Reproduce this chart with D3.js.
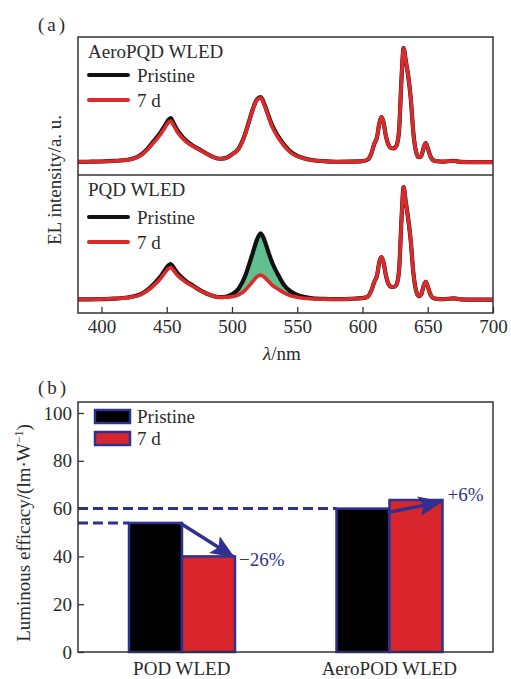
<!DOCTYPE html>
<html><head><meta charset="utf-8">
<script src="https://cdn.jsdelivr.net/npm/d3@7"></script>
<style>body{margin:0;background:#fff}svg{display:block}</style>
</head><body><svg id="c" width="511" height="679" font-family="'Liberation Serif', 'Times New Roman', Times, serif"></svg>
<script>
// ---------- DATA ----------
const wavelength = [382,390,400,410,420,430,435,440,445,448,451,453,455,458,461,465,470,475,480,485,490,495,500,505,510,513,516,519,522,525,528,531,535,540,545,550,555,560,570,580,590,600,604,607,609,611,613,614.5,616,618,620,622,624,626,628,630,631.5,633,635,637,639,641,643,645,647,648.5,650,652,654,657,662,670,675,685,700];
const aeroPristine = [0.010,0.011,0.013,0.018,0.028,0.070,0.120,0.190,0.262,0.315,0.370,0.390,0.352,0.288,0.240,0.192,0.150,0.118,0.085,0.055,0.037,0.042,0.075,0.125,0.250,0.360,0.470,0.550,0.572,0.505,0.410,0.322,0.238,0.158,0.097,0.062,0.042,0.028,0.016,0.011,0.012,0.016,0.030,0.090,0.165,0.220,0.350,0.400,0.360,0.230,0.155,0.130,0.128,0.150,0.280,0.760,1.000,0.900,0.760,0.560,0.260,0.100,0.050,0.060,0.140,0.172,0.130,0.060,0.025,0.015,0.012,0.018,0.010,0.008,0.008];
const aero7d = [0.010,0.011,0.013,0.018,0.027,0.066,0.113,0.178,0.246,0.296,0.347,0.365,0.332,0.272,0.228,0.184,0.145,0.115,0.083,0.054,0.037,0.042,0.074,0.122,0.245,0.355,0.465,0.545,0.566,0.498,0.400,0.310,0.226,0.148,0.090,0.058,0.040,0.027,0.016,0.011,0.012,0.016,0.030,0.090,0.165,0.220,0.350,0.400,0.360,0.230,0.155,0.130,0.128,0.150,0.280,0.760,1.000,0.900,0.760,0.560,0.260,0.100,0.050,0.060,0.140,0.172,0.130,0.060,0.025,0.015,0.012,0.018,0.010,0.008,0.008];
const pqdPristine = [0.005,0.006,0.008,0.012,0.022,0.052,0.088,0.140,0.205,0.255,0.302,0.318,0.292,0.240,0.205,0.165,0.128,0.090,0.060,0.038,0.026,0.028,0.050,0.100,0.210,0.310,0.420,0.530,0.590,0.525,0.420,0.325,0.230,0.130,0.075,0.045,0.028,0.018,0.010,0.007,0.010,0.016,0.030,0.090,0.160,0.210,0.340,0.380,0.340,0.215,0.140,0.118,0.115,0.135,0.260,0.740,1.000,0.880,0.720,0.520,0.240,0.085,0.035,0.050,0.130,0.160,0.120,0.050,0.018,0.010,0.008,0.014,0.006,0.004,0.004];
const pqd7d = [0.005,0.006,0.008,0.012,0.021,0.048,0.080,0.127,0.186,0.232,0.274,0.288,0.266,0.220,0.190,0.155,0.121,0.086,0.058,0.037,0.025,0.024,0.030,0.045,0.085,0.125,0.165,0.205,0.220,0.200,0.165,0.130,0.100,0.062,0.038,0.024,0.016,0.011,0.008,0.007,0.010,0.016,0.030,0.090,0.160,0.210,0.340,0.380,0.340,0.215,0.140,0.118,0.115,0.135,0.260,0.740,1.000,0.880,0.720,0.520,0.240,0.085,0.035,0.050,0.130,0.160,0.120,0.050,0.018,0.010,0.008,0.014,0.006,0.004,0.004];
const xTicks = [400,450,500,550,600,650,700];

const categories = ["POD WLED","AeroPOD WLED"];
const seriesNames = ["Pristine","7 d"];
const efficacyPristine = [54, 60];
const efficacy7d = [40, 63.6];
const changeLabels = ["\u221226%","+6%"];
const yTicksB = [0,20,40,60,80,100];

// ---------- SETUP ----------
const svg = d3.select("#c");
const FONT = "'Liberation Serif', 'Times New Roman', Times, 'DejaVu Serif', serif";
const BLUE = "#2e3192", RED = "#dc2a2a", BARRED = "#d8262c", FRAME="#333", TXT="#2b2b2b";
const L = 78, R = 493;

// ===== Panel (a) =====
const x = d3.scaleLinear().domain([382,700]).range([L,R]);
const yTop = d3.scaleLinear().domain([0,1]).range([163,48]);
const yBot = d3.scaleLinear().domain([0,1]).range([300,187]);

const defs = svg.append("defs");
defs.append("clipPath").attr("id","clipA").append("rect").attr("x",L).attr("y",37).attr("width",R-L).attr("height",313-37);

function series(vals){ return wavelength.map((w,i)=>({w, v: vals[i]})); }
const lineGen = y => d3.line().x(d=>x(d.w)).y(d=>y(d.v)).curve(d3.curveMonotoneX);

const gA = svg.append("g").attr("clip-path","url(#clipA)");

const areaData = wavelength.map((w,i)=>({w, a: pqdPristine[i], b: pqd7d[i]})).filter(d=>d.w>=495 && d.w<=570);
gA.append("path").datum(areaData)
  .attr("d", d3.area().x(d=>x(d.w)).y0(d=>yBot(d.b)).y1(d=>yBot(d.a)).curve(d3.curveMonotoneX))
  .attr("fill","#62bf90");

[[aeroPristine,aero7d,yTop],[pqdPristine,pqd7d,yBot]].forEach(([p,a,y])=>{
  gA.append("path").datum(series(p)).attr("d",lineGen(y)).attr("fill","none").attr("stroke","#111").attr("stroke-width",4.2).attr("stroke-linejoin","round");
  gA.append("path").datum(series(a)).attr("d",lineGen(y)).attr("fill","none").attr("stroke",RED).attr("stroke-width",3.6).attr("stroke-linejoin","round");
});

svg.append("rect").attr("x",L).attr("y",37).attr("width",R-L).attr("height",313-37).attr("fill","none").attr("stroke",FRAME).attr("stroke-width",1.5);
svg.append("line").attr("x1",L).attr("x2",R).attr("y1",175).attr("y2",175).attr("stroke",FRAME).attr("stroke-width",1.5);

const ax = svg.append("g").attr("transform","translate(0,313)")
  .call(d3.axisBottom(x).tickValues(xTicks).tickSizeInner(-6).tickSizeOuter(0).tickPadding(7));
ax.select(".domain").remove();
ax.selectAll("line").attr("stroke",FRAME).attr("stroke-width",1.3);
ax.selectAll("text").attr("font-size",19);

svg.append("text").attr("x",282).attr("y",360).attr("text-anchor","middle").attr("font-size",19)
  .call(t=>{t.append("tspan").attr("font-style","italic").text("\u03bb"); t.append("tspan").text("/nm");});
svg.append("text").attr("transform","translate(61,180) rotate(-90)").attr("text-anchor","middle").attr("font-size",19).text("EL intensity/a. u.");
svg.append("text").attr("x",38).attr("y",31).attr("font-size",19).attr("letter-spacing",3).text("(a)");

function specLegend(title, ty, y1, y2){
  svg.append("text").attr("x",88).attr("y",ty).attr("font-size",19).text(title);
  [[y1,"#111","Pristine"],[y2,RED,"7 d"]].forEach(([yy,c,lab])=>{
    svg.append("line").attr("x1",89).attr("x2",128).attr("y1",yy).attr("y2",yy).attr("stroke",c).attr("stroke-width",4).attr("stroke-linecap","round");
    svg.append("text").attr("x",137).attr("y",yy+6.5).attr("font-size",19).text(lab);
  });
}
specLegend("AeroPQD WLED",58,75,100);
specLegend("PQD WLED",196,217,242);

// ===== Panel (b) =====
const TB = 402, BB = 652;
const yB = d3.scaleLinear().domain([0,104.6]).range([BB,TB]);
const xG = d3.scaleBand().domain(categories).range([L,R]);
const xS = d3.scaleBand().domain(seriesNames).range([51,157]);

categories.forEach((c,i)=>{
  svg.append("line").attr("x1",L).attr("x2",xG(c)+xS("Pristine")).attr("y1",yB(efficacyPristine[i])).attr("y2",yB(efficacyPristine[i]))
    .attr("stroke",BLUE).attr("stroke-width",3).attr("stroke-dasharray","10,5");
});

categories.forEach((c,i)=>{
  const g = svg.append("g").attr("transform",`translate(${xG(c)},0)`);
  [[efficacyPristine[i],"#000","Pristine"],[efficacy7d[i],BARRED,"7 d"]].forEach(([v,f,s])=>{
    g.append("rect").attr("x",xS(s)).attr("width",xS.bandwidth()).attr("y",yB(v)).attr("height",BB-yB(v))
      .attr("fill",f).attr("stroke",BLUE).attr("stroke-width",2.5);
  });
});

defs.append("marker").attr("id","ah").attr("markerUnits","userSpaceOnUse").attr("markerWidth",24).attr("markerHeight",20)
  .attr("viewBox","0 0 24 20").attr("refX",22).attr("refY",10).attr("orient","auto")
  .append("path").attr("d","M0,0 L24,10 L0,20 L5,10 Z").attr("fill",BLUE);
categories.forEach((c,i)=>{
  const x0 = xG(c)+xS("Pristine")+xS.bandwidth();
  const x1 = xG(c)+xS("7 d")+xS.bandwidth()-2;
  const y0 = yB(efficacyPristine[i]) + (i===1?4:0);
  const y1 = yB(efficacy7d[i]) + (i===1?2:0);
  svg.append("line").attr("x1",x0-2).attr("y1",y0).attr("x2",x1).attr("y2",y1)
    .attr("stroke",BLUE).attr("stroke-width",3.5).attr("marker-end","url(#ah)");
});
svg.append("text").attr("x",xG(categories[0])+xS("7 d")+xS.bandwidth()+4).attr("y",yB(efficacy7d[0])+10).attr("font-size",19).attr("class","chg").text(changeLabels[0]);
svg.append("text").attr("x",xG(categories[1])+xS("7 d")+xS.bandwidth()+5).attr("y",yB(efficacy7d[1])+1).attr("font-size",19).attr("class","chg").text(changeLabels[1]);

svg.append("rect").attr("x",L).attr("y",TB).attr("width",R-L).attr("height",BB-TB).attr("fill","none").attr("stroke",FRAME).attr("stroke-width",1.5);

const ayb = svg.append("g").attr("transform",`translate(${L},0)`)
  .call(d3.axisLeft(yB).tickValues(yTicksB).tickSizeInner(-6).tickSizeOuter(0).tickPadding(6));
ayb.select(".domain").remove();
ayb.selectAll("line").attr("stroke",FRAME).attr("stroke-width",1.3);
ayb.selectAll("text").attr("font-size",19);

const axb = svg.append("g").attr("transform",`translate(0,${BB})`)
  .call(d3.axisBottom(xG).tickSize(0).tickPadding(10));
axb.select(".domain").remove();
axb.selectAll("text").attr("font-size",19);

svg.append("text").attr("transform","translate(30,533) rotate(-90)").attr("text-anchor","middle").attr("font-size",19)
  .call(t=>{t.append("tspan").text("Luminous efficacy/(lm\u00b7W");
           t.append("tspan").attr("font-size",12).attr("dy",-7).text("\u22121");
           t.append("tspan").attr("dy",7).text(")");});
svg.append("text").attr("x",38).attr("y",394).attr("font-size",19).attr("letter-spacing",3).text("(b)");

[["#000","Pristine",410],[BARRED,"7 d",432]].forEach(([f,lab,yy])=>{
  svg.append("rect").attr("x",95).attr("y",yy).attr("width",35).attr("height",13).attr("fill",f).attr("stroke",BLUE).attr("stroke-width",2.5);
  svg.append("text").attr("x",137).attr("y",yy+13).attr("font-size",19).text(lab);
});

// font & colour for all texts
svg.selectAll("text").style("font-family",FONT).style("fill",TXT);
svg.selectAll("text.chg").style("fill",BLUE);
</script></body></html>
